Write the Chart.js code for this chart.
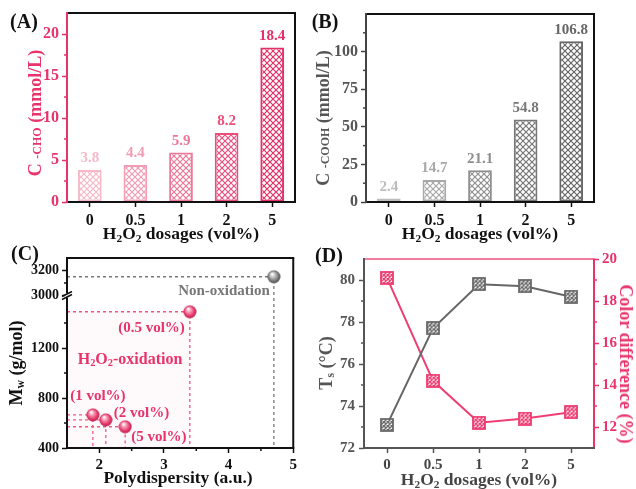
<!DOCTYPE html>
<html>
<head>
<meta charset="utf-8">
<script src="https://cdn.jsdelivr.net/npm/chart.js@4/dist/chart.umd.min.js"></script>
<style>
  html, body { margin: 0; padding: 0; background: #fff; }
  #wrap { position: relative; width: 636px; height: 489px; overflow: hidden;
          font-family: "Liberation Serif", "Times New Roman", serif; }
  canvas { position: absolute; }
  .txt { position: absolute; white-space: nowrap; font-weight: bold; line-height: 1; }
  .ct { transform: translate(-50%, -50%); }
  .vt { transform: translate(-50%, -50%) rotate(-90deg); }
  .vt2 { transform: translate(-50%, -50%) rotate(90deg); }
  sub { font-size: 0.65em; vertical-align: -0.2em; line-height: 0; }
  .sm { font-size: 12px; }
</style>
</head>
<body>
<div id="wrap">
  <canvas id="chartA" width="300" height="240" style="left:0;top:0"></canvas>
  <canvas id="chartB" width="320" height="240" style="left:316px;top:0"></canvas>
  <canvas id="chartC" width="300" height="249" style="left:0;top:240px"></canvas>
  <canvas id="chartD" width="320" height="249" style="left:316px;top:240px"></canvas>

  <div class="txt ct" style="left:24px;top:21px;font-size:20px;color:#111">(A)</div>
  <div class="txt ct" style="left:325px;top:21px;font-size:20px;color:#111">(B)</div>
  <div class="txt ct" style="left:25px;top:253px;font-size:20px;color:#111">(C)</div>
  <div class="txt ct" style="left:329px;top:255px;font-size:20px;color:#111">(D)</div>

  <div class="txt ct" style="left:181px;top:234px;font-size:17.5px;color:#111">H<sub>2</sub>O<sub>2</sub> dosages (vol%)</div>
  <div class="txt ct" style="left:480px;top:234px;font-size:17.5px;color:#111">H<sub>2</sub>O<sub>2</sub> dosages (vol%)</div>
  <div class="txt vt" style="left:35px;top:113px;font-size:18px;color:#e8336b">C <span class="sm">-CHO</span> (mmol/L)</div>
  <div class="txt vt" style="left:323px;top:118px;font-size:18px;color:#555">C <span class="sm">-COOH</span> (mmol/L)</div>

  <div class="txt ct" style="left:178px;top:478px;font-size:17.5px;color:#111">Polydispersity (a.u.)</div>
  <div class="txt vt" style="left:16px;top:363px;font-size:18px;color:#111">M<sub>w</sub> (g/mol)</div>
  <div class="txt ct" style="left:130px;top:359px;font-size:16px;color:#e8336b">H<sub>2</sub>O<sub>2</sub>-oxidation</div>

  <div class="txt ct" style="left:479px;top:480px;font-size:17.5px;color:#444">H<sub>2</sub>O<sub>2</sub> dosages (vol%)</div>
  <div class="txt vt" style="left:326px;top:363px;font-size:18px;color:#555">T<sub>s</sub> (°C)</div>
  <div class="txt vt2" style="left:626px;top:364px;font-size:18px;color:#e8336b">Color difference (%)</div>
</div>

<script>
// ---- data ----
const dosages = ["0", "0.5", "1", "2", "5"];
const choConc = [3.8, 4.4, 5.9, 8.2, 18.4];
const coohConc = [2.4, 14.7, 21.1, 54.8, 106.8];
const polyDisp = [4.7, 3.4, 1.9, 2.1, 2.4];
const mwValues = [3150, 1490, 665, 625, 570];
const mwNames = ["Non-oxidation", "(0.5 vol%)", "(1 vol%)", "(2 vol%)", "(5 vol%)"];
const tsTemp = [73.1, 77.7, 79.8, 79.7, 79.2];
const colorDiff = [19.1, 14.2, 12.2, 12.4, 12.7];

const choTicks = [0, 5, 10, 15, 20];
const coohTicks = [0, 25, 50, 75, 100];
const pdTicks = [2, 3, 4, 5];
const mwTicks = [400, 800, 1200, 3000, 3200];
const tsTicks = [72, 74, 76, 78, 80];
const cdTicks = [12, 14, 16, 18, 20];

// broken Mw axis: 1620 .. 3000 is cut out
const BREAK_LOW = 1620;
const BREAK_HIGH = 3000;
const toAxis = (v) => (v >= BREAK_HIGH ? v - (BREAK_HIGH - BREAK_LOW) : v);

const PINK = "#e8336b";
const choColors = ["#f5b9c9", "#f29cb4", "#ee7898", "#ea4f7c", "#e62f66"];
const coohColors = ["#bdbdbd", "#a8a8a8", "#8e8e8e", "#777777", "#666666"];

Chart.defaults.font.family = "'Liberation Serif', 'Times New Roman', serif";
Chart.defaults.font.weight = "bold";
Chart.defaults.font.size = 15;
Chart.defaults.animation = false;
Chart.defaults.plugins.legend.display = false;
Chart.defaults.plugins.tooltip.enabled = false;

function hatch(color, width, step) {
  const c = document.createElement("canvas");
  c.width = c.height = step;
  const g = c.getContext("2d");
  g.fillStyle = "#fff";
  g.fillRect(0, 0, step, step);
  g.strokeStyle = color;
  g.lineWidth = width;
  g.beginPath();
  g.moveTo(0, 0); g.lineTo(step, step);
  g.moveTo(step, 0); g.lineTo(0, step);
  g.stroke();
  return g.createPattern(c, "repeat");
}

function sphere(light, mid, dark, size) {
  const c = document.createElement("canvas");
  c.width = c.height = size;
  const g = c.getContext("2d");
  const r = size / 2;
  const grad = g.createRadialGradient(r * 0.75, r * 0.6, 0.5, r, r, r);
  grad.addColorStop(0, "#fff");
  grad.addColorStop(0.25, light);
  grad.addColorStop(0.7, mid);
  grad.addColorStop(1, dark);
  g.fillStyle = grad;
  g.beginPath();
  g.arc(r, r, r - 0.5, 0, Math.PI * 2);
  g.fill();
  return c;
}

function marker(color, size, lw) {
  const c = document.createElement("canvas");
  c.width = c.height = size;
  const g = c.getContext("2d");
  g.fillStyle = hatch(color, lw, 4);
  g.fillRect(1, 1, size - 2, size - 2);
  g.strokeStyle = color;
  g.lineWidth = 1.8;
  g.strokeRect(1, 1, size - 2, size - 2);
  return c;
}

const framePlugin = {
  id: "frame",
  afterDraw(chart, args, opts) {
    if (!opts.sides) return;
    const { ctx, chartArea: a } = chart;
    const [top, right, bottom, left] = opts.sides;
    const line = (x1, y1, x2, y2, color, w) => {
      ctx.strokeStyle = color;
      ctx.lineWidth = w || 2;
      ctx.beginPath();
      ctx.moveTo(x1, y1);
      ctx.lineTo(x2, y2);
      ctx.stroke();
    };
    ctx.save();
    line(a.left, a.top, a.right + 1, a.top, top);
    line(a.right, a.top, a.right, a.bottom, right);
    line(a.left - 1, a.bottom, a.right + 1, a.bottom, bottom);
    line(a.left, a.top - 1, a.left, a.bottom + 1, left);
    const minor = opts.minor || {};
    Object.keys(minor).forEach((id) => {
      const s = chart.scales[id];
      minor[id].forEach((v) => {
        const p = s.getPixelForValue(v);
        if (s.isHorizontal()) line(p, a.bottom, p, a.bottom + 3, bottom, 1.5);
        else if (s.position === "right") line(a.right, p, a.right + 3, p, right, 1.5);
        else line(a.left, p, a.left - 3, p, left, 1.5);
      });
    });
    if (opts.breakAt !== undefined) {
      const y = chart.scales.y.getPixelForValue(opts.breakAt);
      ctx.fillStyle = "#fff";
      ctx.fillRect(a.left - 2, y - 2, 4, 4);
      line(a.left - 5, y + 1, a.left + 5, y - 4, left, 1.5);
      line(a.left - 5, y + 4, a.left + 5, y - 1, left, 1.5);
    }
    ctx.restore();
  },
};

const barValuePlugin = {
  id: "barValues",
  afterDatasetsDraw(chart, args, opts) {
    if (!opts.colors) return;
    const ctx = chart.ctx;
    const values = chart.data.datasets[0].data;
    ctx.save();
    ctx.font = "bold 15px 'Liberation Serif'";
    ctx.textAlign = "center";
    ctx.textBaseline = "bottom";
    chart.getDatasetMeta(0).data.forEach((bar, i) => {
      ctx.fillStyle = opts.colors[i];
      ctx.fillText(String(values[i]), bar.x, bar.y - 4);
    });
    ctx.restore();
  },
};

const calloutPlugin = {
  id: "callouts",
  afterDatasetsDraw(chart, args, opts) {
    if (!opts.texts) return;
    const ctx = chart.ctx;
    ctx.save();
    ctx.font = "bold 15px 'Liberation Serif'";
    ctx.textBaseline = "middle";
    chart.getDatasetMeta(0).data.forEach((pt, i) => {
      const [dx, dy, align] = opts.offsets[i];
      ctx.textAlign = align;
      ctx.fillStyle = opts.colors[i];
      ctx.fillText(opts.texts[i], pt.x + dx, pt.y + dy);
    });
    ctx.restore();
  },
};

Chart.register(framePlugin, barValuePlugin, calloutPlugin);

function axisGrid(color) {
  return { drawOnChartArea: false, offset: false, tickLength: 5, tickWidth: 1.5, tickColor: color };
}

function setBarChart(id, values, colors, ticks, maxY, axisColor, labelColor, yWidth, padRight, padTop, minor) {
  new Chart(document.getElementById(id), {
    type: "bar",
    data: {
      labels: dosages,
      datasets: [
        {
          data: values,
          backgroundColor: colors.map((c) => hatch(c, 1.2, 6)),
          borderColor: colors,
          borderWidth: 2,
          borderSkipped: false,
          barPercentage: 0.52,
          categoryPercentage: 1,
        },
      ],
    },
    options: {
      responsive: false,
      layout: { padding: { top: padTop, right: padRight, left: 0, bottom: 0 } },
      scales: {
        x: {
          grid: axisGrid("#111"),
          border: { display: false },
          ticks: { color: "#111", padding: 4, font: { size: 16 } },
          afterFit: (s) => { s.height = 38; },
        },
        y: {
          min: 0,
          max: maxY,
          grid: axisGrid(axisColor),
          border: { display: false },
          ticks: { color: labelColor, padding: 3, font: { size: 16 } },
          afterBuildTicks: (s) => { s.ticks = ticks.map((v) => ({ value: v })); },
          afterFit: (s) => { s.width = yWidth; },
        },
      },
      plugins: {
        frame: { sides: ["#111", "#111", "#111", axisColor], minor: { y: minor } },
        barValues: { colors: colors },
      },
    },
  });
}

function setMwChart() {
  const X_MIN = 1.5;
  const Y_MIN = 400;
  const pink = sphere("#f9a7bd", "#e8386c", "#a8123f", 14);
  const gray = sphere("#d0d0d0", "#7a7a7a", "#3c3c3c", 14);
  const guides = polyDisp.map((x, i) => {
    const y = toAxis(mwValues[i]);
    return {
      type: "line",
      data: [{ x: X_MIN, y: y }, { x: x, y: y }, { x: x, y: Y_MIN }],
      showLine: true,
      borderColor: i === 0 ? "#777" : "#f0507e",
      borderWidth: 1.3,
      borderDash: [3, 3],
      pointRadius: 0,
      fill: i === 1 ? "start" : false,
      backgroundColor: "rgba(246,186,204,0.09)",
    };
  });

  new Chart(document.getElementById("chartC"), {
    type: "scatter",
    data: {
      datasets: [
        {
          data: polyDisp.map((x, i) => ({ x: x, y: toAxis(mwValues[i]) })),
          pointStyle: (ctx) => (ctx.dataIndex === 0 ? gray : pink),
        },
        ...guides,
      ],
    },
    options: {
      responsive: false,
      layout: { padding: { top: 18, right: 5, left: 0, bottom: 0 } },
      scales: {
        x: {
          type: "linear",
          min: X_MIN,
          max: 5,
          grid: axisGrid("#111"),
          border: { display: false },
          ticks: { color: "#111", padding: 3, font: { size: 15 } },
          afterBuildTicks: (s) => { s.ticks = pdTicks.map((v) => ({ value: v })); },
          afterFit: (s) => { s.height = 41; },
        },
        y: {
          min: Y_MIN,
          max: toAxis(3300),
          grid: axisGrid("#111"),
          border: { display: false },
          ticks: { color: "#111", padding: 3, font: { size: 14 }, callback: (v, i) => mwTicks[i] },
          afterBuildTicks: (s) => { s.ticks = mwTicks.map((v) => ({ value: toAxis(v) })); },
          afterFit: (s) => { s.width = 67; },
        },
      },
      plugins: {
        frame: {
          sides: ["#111", "#111", "#111", "#111"],
          minor: { x: [2.5, 3.5, 4.5], y: [600, 1000, 1400, toAxis(3100)] },
          breakAt: BREAK_LOW,
        },
        callouts: {
          texts: mwNames,
          colors: ["#777", PINK, PINK, PINK, PINK],
          offsets: [[-4, 14, "right"], [-5, 16, "right"], [5, -19, "center"], [8, -7, "left"], [6, 10, "left"]],
        },
      },
    },
  });
}

function setThermalChart() {
  const grayMark = marker("#6a6a6a", 14, 1.4);
  const pinkMark = marker("#ee3d72", 14, 1.4);
  new Chart(document.getElementById("chartD"), {
    type: "line",
    data: {
      labels: dosages,
      datasets: [
        {
          data: tsTemp,
          yAxisID: "y",
          borderColor: "#666",
          borderWidth: 2,
          tension: 0,
          pointStyle: grayMark,
        },
        {
          data: colorDiff,
          yAxisID: "y2",
          borderColor: "#ef3e72",
          borderWidth: 2,
          tension: 0,
          pointStyle: pinkMark,
        },
      ],
    },
    options: {
      responsive: false,
      layout: { padding: { top: 19, right: 0, left: 0, bottom: 0 } },
      scales: {
        x: {
          offset: true,
          grid: axisGrid("#555"),
          border: { display: false },
          ticks: { color: "#444", padding: 3, font: { size: 15 } },
          afterFit: (s) => { s.height = 41; },
        },
        y: {
          position: "left",
          min: 72,
          max: 81,
          grid: axisGrid("#555"),
          border: { display: false },
          ticks: { color: "#555", padding: 4, font: { size: 15 } },
          afterBuildTicks: (s) => { s.ticks = tsTicks.map((v) => ({ value: v })); },
          afterFit: (s) => { s.width = 48; },
        },
        y2: {
          position: "right",
          min: 11,
          max: 20,
          grid: axisGrid(PINK),
          border: { display: false },
          ticks: { color: PINK, padding: 3, font: { size: 15 } },
          afterBuildTicks: (s) => { s.ticks = cdTicks.map((v) => ({ value: v })); },
          afterFit: (s) => { s.width = 42; },
        },
      },
      plugins: {
        frame: {
          sides: ["#f27d9f", PINK, "#555", "#555"],
          minor: { y: [73, 75, 77, 79], y2: [13, 15, 17, 19] },
        },
      },
    },
  });
}

function init() {
  setBarChart("chartA", choConc, choColors, choTicks, 22.5, PINK, PINK, 67, 5, 13, [2.5, 7.5, 12.5, 17.5]);
  setBarChart("chartB", coohConc, coohColors, coohTicks, 125, "#444", "#555", 50, 42, 14, [12.5, 37.5, 62.5, 87.5, 112.5]);
  setMwChart();
  setThermalChart();
}

init();
</script>
</body>
</html>
